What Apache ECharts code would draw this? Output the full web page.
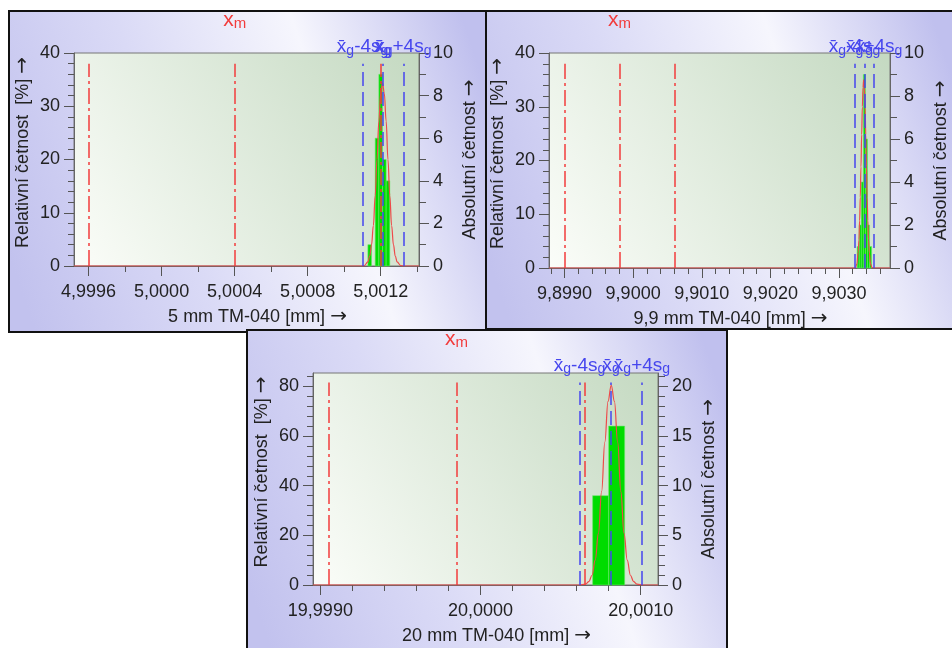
<!doctype html>
<html>
<head>
<meta charset="utf-8" />
<script src="https://cdn.jsdelivr.net/npm/echarts@6/dist/echarts.min.js"></script>
<style>
html, body { margin: 0; padding: 0; background: #fff; }
#charts { width: 952px; height: 648px; }
</style>
</head>
<body>
<div id="charts"></div>
<script>
// ---- panel 1 : 5 mm TM-040 ----
const p1XMin = 4.99952, p1XMax = 5.00141;
const p1XTicks = [4.9996, 5.0000, 5.0004, 5.0008, 5.0012];
const p1XMinor = [4.9998, 5.0002, 5.0006, 5.0010, 5.0014];
const p1RelMax = 40, p1AbsMax = 10;
const p1RelTicks = [0, 10, 20, 30, 40];
const p1RelMinor = [2, 4, 6, 8, 12, 14, 16, 18, 22, 24, 26, 28, 32, 34, 36, 38];
const p1AbsTicks = [0, 2, 4, 6, 8, 10];
const p1AbsMinor = [1, 3, 5, 7, 9];
const p1BinWidth = 0.00002;
const p1Bins = [5.00114, 5.00118, 5.00120, 5.00122, 5.00124];
const p1Counts = [1, 6, 9, 5, 4];
const p1Curve = [[4.99952, 0], [5.00109, 0], [5.00111, 0.02], [5.00113, 0.19], [5.00114, 0.47], [5.00115, 1.0],
  [5.00116, 1.9], [5.00117, 3.3], [5.00118, 5.0], [5.00119, 6.8], [5.00120, 8.1], [5.00121, 8.6], [5.00122, 8.1],
  [5.00123, 6.8], [5.00124, 5.0], [5.00125, 3.3], [5.00126, 1.9], [5.00127, 1.0], [5.00128, 0.47], [5.00129, 0.19],
  [5.00131, 0.02], [5.00133, 0], [5.00141, 0]];
const p1RedLines = [4.9996, 5.0004, 5.0012];
const p1BlueLines = [5.001101, 5.001211, 5.001324];
const p1LineTop = 9.5;

// ---- panel 2 : 9,9 mm TM-040 ----
const p2XMin = 9.898774, p2XMax = 9.903743;
const p2XTicks = [9.899, 9.900, 9.901, 9.902, 9.903];
const p2XMinor = [9.8988, 9.8992, 9.8994, 9.8996, 9.8998, 9.9002, 9.9004, 9.9006, 9.9008, 9.9012, 9.9014, 9.9016, 9.9018,
  9.9022, 9.9024, 9.9026, 9.9028, 9.9032, 9.9034, 9.9036];
const p2RelMax = 40, p2AbsMax = 10;
const p2RelTicks = [0, 10, 20, 30, 40];
const p2RelMinor = [2, 4, 6, 8, 12, 14, 16, 18, 22, 24, 26, 28, 32, 34, 36, 38];
const p2AbsTicks = [0, 2, 4, 6, 8, 10];
const p2AbsMinor = [1, 3, 5, 7, 9];
const p2BinWidth = 0.00003;
const p2Bins = [9.90328, 9.90331, 9.90334, 9.90337, 9.90340, 9.90343, 9.90346];
const p2Counts = [1, 2, 4, 9, 6, 2, 1];
const p2Curve = [[9.898774, 0], [9.90322, 0], [9.90324, 0.03], [9.90326, 0.18], [9.90328, 0.74], [9.90329, 1.3],
  [9.90330, 2.2], [9.90331, 3.3], [9.90332, 4.7], [9.90333, 6.2], [9.90334, 7.5], [9.90335, 8.4], [9.90336, 8.75],
  [9.90337, 8.4], [9.90338, 7.5], [9.90339, 6.2], [9.90340, 4.7], [9.90341, 3.3], [9.90342, 2.2], [9.90343, 1.3],
  [9.90344, 0.74], [9.90346, 0.18], [9.90348, 0.03], [9.90350, 0], [9.903743, 0]];
const p2RedLines = [9.8990, 9.8998, 9.9006];
const p2BlueLines = [9.903225, 9.903369, 9.903513];
const p2LineTop = 9.5;

// ---- panel 3 : 20 mm TM-040 ----
const p3XMin = 19.998954, p3XMax = 20.001108;
const p3XTicks = [19.999, 20.000, 20.001];
const p3XMinor = [19.9992, 19.9994, 19.9996, 19.9998, 20.0002, 20.0004, 20.0006, 20.0008];
const p3RelMax = 85.4, p3AbsMax = 21.35;
const p3RelTicks = [0, 20, 40, 60, 80];
const p3RelMinor = [4, 8, 12, 16, 24, 28, 32, 36, 44, 48, 52, 56, 64, 68, 72, 76, 84];
const p3AbsTicks = [0, 5, 10, 15, 20];
const p3AbsMinor = [1, 2, 3, 4, 6, 7, 8, 9, 11, 12, 13, 14, 16, 17, 18, 19, 21];
const p3BinWidth = 0.0001;
const p3Bins = [20.00075, 20.00085];
const p3Counts = [9, 16];
const p3Curve = [[19.998954, 0], [20.000616, 0], [20.000656, 0.09], [20.000676, 0.33], [20.000696, 0.98],
  [20.000716, 2.5], [20.000736, 5.2], [20.000756, 9.4], [20.000776, 14.4], [20.000796, 18.5], [20.000816, 20.1],
  [20.000836, 18.5], [20.000856, 14.4], [20.000876, 9.4], [20.000896, 5.2], [20.000916, 2.5], [20.000936, 0.98],
  [20.000956, 0.33], [20.000976, 0.09], [20.001016, 0], [20.001108, 0]];
const p3RedLines = [19.99905, 19.99985, 20.00065];
const p3BlueLines = [20.000618, 20.000816, 20.001008];
const p3LineTop = 20.4;

const FONT = '"Liberation Sans", Arial, sans-serif';
const RED = '#f23c3c';
const BLUE = '#4646ee';
const GREEN = '#00dc00';
const TXT = '#222';

var myChart = echarts.init(document.getElementById('charts'));

const xAxis = [], yAxis = [], grid = [], series = [];

function comma(v) {
    return v.toFixed(4).replace('.', ',');
}

function tickStyle(len, values) {
    return { show: true, inside: false, length: len, customValues: values, lineStyle: { color: '#555', width: 1 } };
}

// axis titles carry a big arrow, drawn in DejaVu which has a wider glyph
const nameStyle = {
    fontSize: 18, color: TXT, fontFamily: FONT,
    rich: { a: { fontSize: 20, color: TXT, fontFamily: '"DejaVu Sans", sans-serif' } }
};
const labelStyle = { fontSize: 18, color: TXT, fontFamily: FONT };

function panel(i, box, d) {
    grid.push({
        left: box[0], top: box[1], width: box[2], height: box[3],
        show: true, borderColor: '#777', borderWidth: 1,
        backgroundColor: new echarts.graphic.LinearGradient(0, 1, 1, 0, [
            { offset: 0, color: '#fbfdf9' },
            { offset: 1, color: '#c4d9c1' }
        ])
    });
    // x axes: major with labels, minor ticks only
    xAxis.push({
        gridIndex: i, type: 'value', position: 'bottom', min: d.xMin, max: d.xMax,
        axisLine: { onZero: false, lineStyle: { color: '#666' } },
        axisTick: tickStyle(10, d.xTicks),
        axisLabel: Object.assign({ customValues: d.xTicks, formatter: comma, margin: 17 }, labelStyle),
        splitLine: { show: false },
        name: d.xName + ' {a|→}', nameLocation: 'middle', nameGap: 41,
        nameTextStyle: Object.assign({ padding: [0, 0, 0, 22] }, nameStyle)
    });
    xAxis.push({
        gridIndex: i, type: 'value', position: 'bottom', min: d.xMin, max: d.xMax,
        axisLine: { show: false, onZero: false }, axisTick: tickStyle(6, d.xMinor),
        axisLabel: { show: false }, splitLine: { show: false }
    });
    // y axes: relative (left), absolute (right)
    yAxis.push({
        gridIndex: i, type: 'value', position: 'left', min: 0, max: d.relMax,
        axisLine: { show: true, onZero: false, lineStyle: { color: '#666' } },
        axisTick: tickStyle(10, d.relTicks),
        axisLabel: Object.assign({ customValues: d.relTicks, margin: 14 }, labelStyle),
        splitLine: { show: false },
        name: 'Relativní četnost  [%] {a|→}', nameLocation: 'middle', nameGap: 41, nameRotate: 90,
        nameTextStyle: Object.assign({ padding: [0, 0, 0, 14] }, nameStyle)
    });
    yAxis.push({
        gridIndex: i, type: 'value', position: 'left', min: 0, max: d.relMax,
        axisLine: { show: false, onZero: false }, axisTick: tickStyle(6, d.relMinor),
        axisLabel: { show: false }, splitLine: { show: false }
    });
    yAxis.push({
        gridIndex: i, type: 'value', position: 'right', min: 0, max: d.absMax,
        axisLine: { show: true, onZero: false, lineStyle: { color: '#666' } },
        axisTick: tickStyle(10, d.absTicks),
        axisLabel: Object.assign({ customValues: d.absTicks, margin: 14 }, labelStyle),
        splitLine: { show: false },
        name: 'Absolutní četnost {a|→}', nameLocation: 'middle', nameGap: 41, nameRotate: 90,
        nameTextStyle: nameStyle
    });
    yAxis.push({
        gridIndex: i, type: 'value', position: 'right', min: 0, max: d.absMax,
        axisLine: { show: false, onZero: false }, axisTick: tickStyle(7, d.absMinor),
        axisLabel: { show: false }, splitLine: { show: false }
    });

    const xi = 2 * i, yi = 4 * i + 2;

    // histogram bars (absolute counts)
    series.push({
        type: 'custom', xAxisIndex: xi, yAxisIndex: yi, z: 3,
        data: d.bins.map((b, k) => [b - d.binWidth / 2, b + d.binWidth / 2, d.counts[k]]),
        renderItem: function (params, api) {
            const p0 = api.coord([api.value(0), api.value(2)]);
            const p1 = api.coord([api.value(1), 0]);
            return {
                type: 'rect',
                shape: { x: p0[0], y: p0[1], width: p1[0] - p0[0], height: p1[1] - p0[1] },
                style: { fill: GREEN, stroke: '#6ae86a', lineWidth: 0.6 }
            };
        }
    });

    // marker lines
    const mark = [];
    d.redLines.forEach((x, k) => {
        mark.push([{
            coord: [x, 0],
            lineStyle: { color: RED, type: [16, 4, 3, 4], width: 1.5 },
            label: k === 1 ? {
                show: true, position: 'end', distance: 32,
                formatter: '{m|x}{s|m}',
                rich: {
                    m: { fontSize: 21, color: RED, fontFamily: FONT },
                    s: { fontSize: 15, color: RED, fontFamily: FONT, padding: [8, 0, 0, 0] }
                }
            } : { show: false }
        }, { coord: [x, d.lineTop] }]);
    });
    const blueText = ['{m|x\u0304}{s|g}{m|-4s}{s|g}', '{m|x\u0304}{s|g}', '{m|x\u0304}{s|g}{m|+4s}{s|g}'];
    d.blueLines.forEach((x, k) => {
        mark.push([{
            coord: [x, 0],
            lineStyle: { color: BLUE, type: [14, 6], width: 1.5 },
            label: {
                show: true, position: 'end', distance: 6,
                formatter: blueText[k],
                rich: {
                    m: { fontSize: 19, color: BLUE, fontFamily: FONT },
                    s: { fontSize: 14, color: BLUE, fontFamily: FONT, padding: [8, 0, 0, 0] }
                }
            }
        }, { coord: [x, d.lineTop] }]);
    });

    // normal curve
    series.push({
        type: 'line', xAxisIndex: xi, yAxisIndex: yi, z: 4,
        data: d.curve, showSymbol: false, symbol: 'none',
        smooth: 0.4, smoothMonotone: 'x',
        lineStyle: { color: '#ee4a4a', width: 1.2 },
        markLine: {
            silent: true, symbol: ['none', 'none'], animation: false,
            data: mark
        }
    });
}

panel(0, [74, 53, 345, 213], {
    xMin: p1XMin, xMax: p1XMax, xTicks: p1XTicks, xMinor: p1XMinor, xName: '5 mm TM-040 [mm]',
    relMax: p1RelMax, relTicks: p1RelTicks, relMinor: p1RelMinor,
    absMax: p1AbsMax, absTicks: p1AbsTicks, absMinor: p1AbsMinor,
    bins: p1Bins, binWidth: p1BinWidth, counts: p1Counts, curve: p1Curve,
    redLines: p1RedLines, blueLines: p1BlueLines, lineTop: p1LineTop
});
panel(1, [549, 53, 345, 215], {
    xMin: p2XMin, xMax: p2XMax, xTicks: p2XTicks, xMinor: p2XMinor, xName: '9,9 mm TM-040 [mm]',
    relMax: p2RelMax, relTicks: p2RelTicks, relMinor: p2RelMinor,
    absMax: p2AbsMax, absTicks: p2AbsTicks, absMinor: p2AbsMinor,
    bins: p2Bins, binWidth: p2BinWidth, counts: p2Counts, curve: p2Curve,
    redLines: p2RedLines, blueLines: p2BlueLines, lineTop: p2LineTop
});
panel(2, [313, 373, 345, 212], {
    xMin: p3XMin, xMax: p3XMax, xTicks: p3XTicks, xMinor: p3XMinor, xName: '20 mm TM-040 [mm]',
    relMax: p3RelMax, relTicks: p3RelTicks, relMinor: p3RelMinor,
    absMax: p3AbsMax, absTicks: p3AbsTicks, absMinor: p3AbsMinor,
    bins: p3Bins, binWidth: p3BinWidth, counts: p3Counts, curve: p3Curve,
    redLines: p3RedLines, blueLines: p3BlueLines, lineTop: p3LineTop
});

function panelRect(x, y, w, h) {
    return {
        type: 'rect', z: -10,
        shape: { x: x, y: y, width: w, height: h },
        style: {
            fill: new echarts.graphic.LinearGradient(0, 0.75, 1, 0.25, [
                { offset: 0, color: '#c2c2ee' },
                { offset: 0.35, color: '#dadaf6' },
                { offset: 0.68, color: '#f6f6fd' },
                { offset: 1, color: '#c0c0ee' }
            ]),
            stroke: '#111', lineWidth: 2
        }
    };
}

let options = {
    backgroundColor: '#fff',
    animation: false,
    graphic: [
        panelRect(9, 11, 477, 321),
        panelRect(486, 11, 470, 318),
        panelRect(247, 330, 480, 330)
    ],
    grid: grid,
    xAxis: xAxis,
    yAxis: yAxis,
    series: series
};
myChart.setOption(options);
</script>
</body>
</html>
